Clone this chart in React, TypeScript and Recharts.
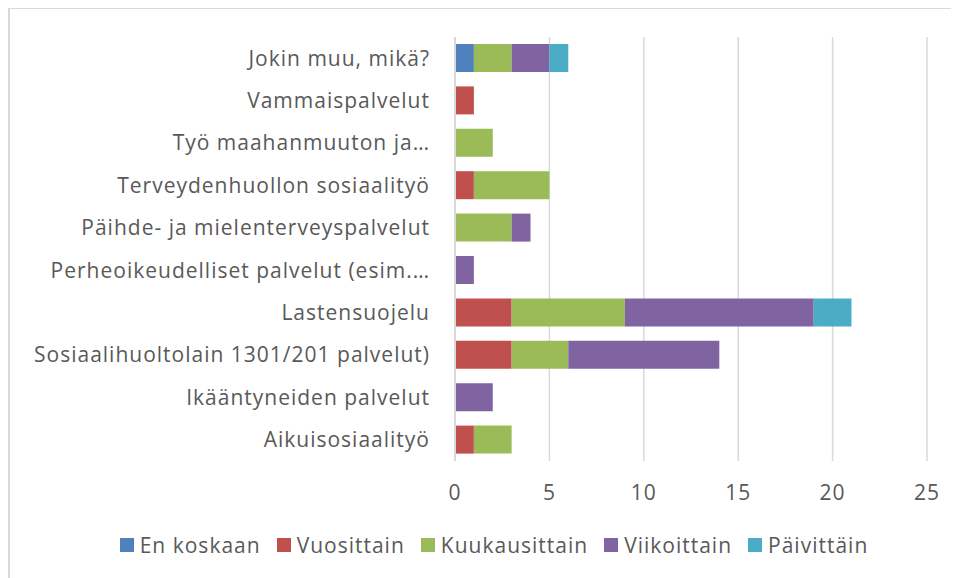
import { BarChart, Bar, XAxis, YAxis, CartesianGrid, Legend } from "recharts";

// ─── Data ────────────────────────────────────────
const categories = [
  "Jokin muu, mikä?",
  "Vammaispalvelut",
  "Työ maahanmuuton ja…",
  "Terveydenhuollon sosiaalityö",
  "Päihde- ja mielenterveyspalvelut",
  "Perheoikeudelliset palvelut (esim.…",
  "Lastensuojelu",
  "Sosiaalihuoltolain 1301/201 palvelut)",
  "Ikääntyneiden palvelut",
  "Aikuisosiaalityö",
];

const enKoskaan = [1, 0, 0, 0, 0, 0, 0, 0, 0, 0];
const vuosittain = [0, 1, 0, 1, 0, 0, 3, 3, 0, 1];
const kuukausittain = [2, 0, 2, 4, 3, 0, 6, 3, 0, 2];
const viikoittain = [2, 0, 0, 0, 1, 1, 10, 8, 2, 0];
const paivittain = [1, 0, 0, 0, 0, 0, 2, 0, 0, 0];

const xTicks = [0, 5, 10, 15, 20, 25];

const seriesDefs = [
  { key: "enKoskaan", name: "En koskaan", color: "#4F81BD", values: enKoskaan },
  { key: "vuosittain", name: "Vuosittain", color: "#C0504D", values: vuosittain },
  { key: "kuukausittain", name: "Kuukausittain", color: "#9BBB59", values: kuukausittain },
  { key: "viikoittain", name: "Viikoittain", color: "#8064A2", values: viikoittain },
  { key: "paivittain", name: "Päivittäin", color: "#4BACC6", values: paivittain },
];

const data = categories.map((name, i) => {
  const row: Record<string, string | number> = { name };
  seriesDefs.forEach((s) => {
    row[s.key] = s.values[i];
  });
  return row;
});

const FONT = "'Open Sans', sans-serif";
const TEXT = "#595959";
const GRID = "#d9d9d9";
const tickStyle = { fontSize: 21, fill: TEXT, letterSpacing: 1 };

// ─── Legend ──────────────────────────────────────
function ChartLegend() {
  return (
    <div
      style={{
        display: "flex",
        justifyContent: "center",
        alignItems: "center",
        height: 28,
        paddingLeft: 51,
        fontFamily: FONT,
        fontSize: 21,
        letterSpacing: 1,
        color: TEXT,
      }}
    >
      {seriesDefs.map((s) => (
        <div key={s.key} style={{ display: "flex", alignItems: "center", margin: "0 8px" }}>
          <span style={{ width: 14, height: 14, background: s.color, marginRight: 6 }} />
          <span>{s.name}</span>
        </div>
      ))}
    </div>
  );
}

// ─── Component ───────────────────────────────────
export default function App() {
  return (
    <div
      style={{
        position: "relative",
        marginTop: -1,
        width: 951,
        height: 571,
        borderTop: `2px solid ${GRID}`,
        borderLeft: `2px solid ${GRID}`,
        background: "#fff",
      }}
    >
      <BarChart
        width={949}
        height={569}
        data={data}
        layout="vertical"
        barSize={28}
        margin={{ top: 28, right: 32, left: 0, bottom: 19 }}
        style={{ fontFamily: FONT }}
      >
        <CartesianGrid horizontal={false} stroke={GRID} strokeWidth={1.5} />
        <XAxis
          type="number"
          domain={[0, 25]}
          ticks={xTicks}
          axisLine={false}
          tickLine={false}
          tickSize={0}
          tickMargin={24}
          height={70}
          tick={tickStyle}
        />
        <YAxis
          type="category"
          dataKey="name"
          width={445}
          axisLine={{ stroke: GRID, strokeWidth: 2 }}
          tickLine={false}
          tickSize={0}
          tickMargin={25}
          interval={0}
          tick={tickStyle}
        />
        <Legend verticalAlign="bottom" content={<ChartLegend />} />
        {seriesDefs.map((s) => (
          <Bar
            key={s.key}
            dataKey={s.key}
            name={s.name}
            stackId="a"
            fill={s.color}
            isAnimationActive={false}
          />
        ))}
      </BarChart>
    </div>
  );
}
